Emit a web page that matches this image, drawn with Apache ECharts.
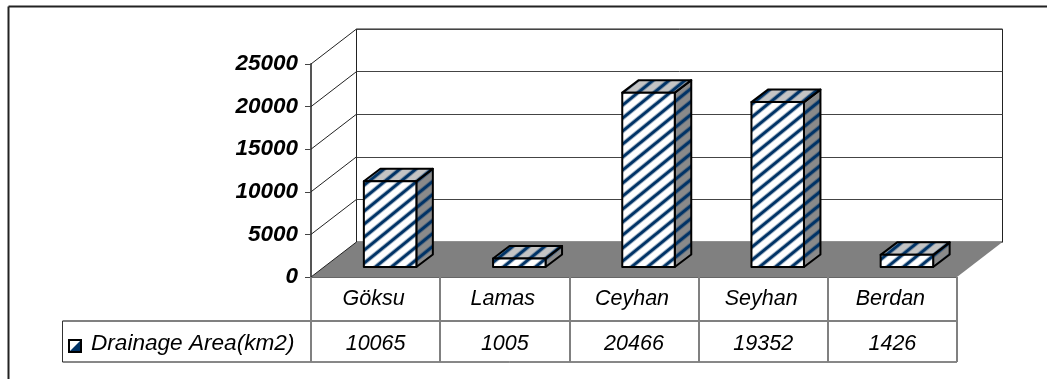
<!DOCTYPE html>
<html>
<head>
<meta charset="utf-8">
<style>html,body{margin:0;padding:0;background:#fff}#chart{width:1047px;height:379px}</style>
<script src="https://cdn.jsdelivr.net/npm/echarts@6/dist/echarts.min.js"></script>
</head>
<body>
<div id="chart"></div>
<script>
const categories = ['Göksu', 'Lamas', 'Ceyhan', 'Seyhan', 'Berdan'];
const drainageArea = [10065, 1005, 20466, 19352, 1426];
const yTicks = [0, 5000, 10000, 15000, 20000, 25000];
const seriesName = 'Drainage Area(km2)';

// Oblique projection of the 3D plot box and of each column inside it.
const WALL_DX = 45.5, WALL_DY = -35;
const BAR_SHIFT_X = 14.5, BAR_SHIFT_Y = -10;
const BAR_WIDTH = 52.5, BAR_DX = 16.5, BAR_DY = -12.5;
const FONT = '"Liberation Sans", Arial, sans-serif';

// Repeating diagonal hatch: a soft halo under a solid navy stroke.
function stripeTile(background) {
  const w = 16, h = 13, c = document.createElement('canvas');
  c.width = w;
  c.height = h;
  const g = c.getContext('2d');
  g.fillStyle = background;
  g.fillRect(0, 0, w, h);
  const stroke = (width, color) => {
    g.strokeStyle = color;
    g.lineWidth = width;
    for (let k = -1; k <= 1; k++) {
      g.beginPath();
      g.moveTo(k * w - 8, h + 6.5);
      g.lineTo(k * w + w + 8, -6.5);
      g.stroke();
    }
  };
  stroke(4.6, 'rgba(0,51,102,0.35)');
  stroke(2.8, '#003366');
  return { image: c, repeat: 'repeat' };
}
const frontFill = stripeTile('#ffffff');
const topFill = stripeTile('#c4c4c4');
const sideFill = stripeTile('#8a8a8a');

function renderColumn(params, api) {
  const i = api.value(0);
  const base = api.coord([i, 0]);
  const head = api.coord([i, api.value(1)]);
  const cx = base[0] + BAR_SHIFT_X;
  const l = cx - BAR_WIDTH / 2, r = cx + BAR_WIDTH / 2;
  const b = base[1] + BAR_SHIFT_Y, t = head[1] + BAR_SHIFT_Y;
  const edge = { stroke: '#000', lineWidth: 2, lineJoin: 'round' };
  const face = (points, fill) => ({
    type: 'polygon', shape: { points }, style: Object.assign({ fill }, edge)
  });
  return {
    type: 'group',
    children: [
      face([[r, t], [r + BAR_DX, t + BAR_DY], [r + BAR_DX, b + BAR_DY], [r, b]], sideFill),
      face([[l, t], [l + BAR_DX, t + BAR_DY], [r + BAR_DX, t + BAR_DY], [r, t]], topFill),
      face([[l, t], [r, t], [r, b], [l, b]], frontFill)
    ]
  };
}

function renderFloor(params) {
  const g = params.coordSys;
  const y = g.y + g.height;
  return {
    type: 'polygon',
    shape: { points: [[g.x, y], [g.x + WALL_DX, y + WALL_DY],
      [g.x + g.width + WALL_DX, y + WALL_DY], [g.x + g.width, y]] },
    style: { fill: '#808080' }
  };
}

function renderSideLine(params, api) {
  const y = api.coord([0, api.value(0)])[1];
  const x = params.coordSys.x;
  return {
    type: 'line',
    shape: { x1: x, y1: y, x2: x + WALL_DX, y2: y + WALL_DY },
    style: { stroke: '#222', lineWidth: 1 }
  };
}

const chart = echarts.init(document.getElementById('chart'), null, { renderer: 'canvas' });
chart.setOption({
  animation: false,
  backgroundColor: '#fff',
  grid: [
    // front plane of the plot box
    { left: 311, right: 90, top: 64, height: 213 },
    // back wall
    { left: 356.5, right: 44.5, top: 29, height: 213, show: true, borderColor: '#222', borderWidth: 1 },
    // data table value row
    { left: 311, right: 90, top: 320, height: 1 }
  ],
  xAxis: [
    {
      gridIndex: 0, type: 'category', data: categories,
      axisLine: { lineStyle: { color: '#666', width: 1 } },
      axisTick: { show: true, length: 44, lineStyle: { color: '#808080', width: 2 } },
      axisLabel: { margin: 11, padding: [0, 4, 0, 0], fontFamily: FONT, fontStyle: 'italic', fontSize: 21.5, color: '#000' }
    },
    { gridIndex: 1, type: 'category', data: categories, show: false },
    {
      gridIndex: 2, type: 'category', data: drainageArea.map(String),
      axisLine: { lineStyle: { color: '#808080', width: 2 } },
      axisTick: { show: true, length: 41, lineStyle: { color: '#808080', width: 2 } },
      axisLabel: { margin: 12, fontFamily: FONT, fontStyle: 'italic', fontSize: 21.5, color: '#000' }
    }
  ],
  yAxis: [
    {
      gridIndex: 0, type: 'value', min: 0, max: 25000, interval: 5000,
      splitLine: { show: false },
      axisLine: { show: true, lineStyle: { color: '#555', width: 2 } },
      axisTick: { show: true, length: 6, lineStyle: { color: '#444', width: 1 } },
      axisLabel: {
        margin: 13, fontFamily: FONT, fontStyle: 'italic', fontWeight: 'bold', fontSize: 22.5, color: '#000',
        formatter: v => String(v)
      }
    },
    {
      gridIndex: 1, type: 'value', min: 0, max: 25000, interval: 5000,
      axisLine: { show: false }, axisTick: { show: false }, axisLabel: { show: false },
      splitLine: { show: true, lineStyle: { color: '#444', width: 1 } }
    },
    { gridIndex: 2, type: 'value', show: false, splitLine: { show: false } }
  ],
  graphic: [
    // chart area frame: only its top and left edges are visible
    { type: 'line', shape: { x1: 8.5, y1: 6.5, x2: 1047, y2: 6.5 }, style: { stroke: '#222', lineWidth: 2 } },
    { type: 'line', shape: { x1: 8.5, y1: 6.5, x2: 8.5, y2: 379 }, style: { stroke: '#222', lineWidth: 2 } },
    // legend cell of the data table
    { type: 'line', shape: { x1: 62.5, y1: 321, x2: 311, y2: 321 }, style: { stroke: '#808080', lineWidth: 2 } },
    { type: 'line', shape: { x1: 62.5, y1: 321, x2: 62.5, y2: 362 }, style: { stroke: '#333', lineWidth: 1 } },
    { type: 'line', shape: { x1: 62.5, y1: 362, x2: 957, y2: 362 }, style: { stroke: '#111', lineWidth: 1 } },
    {
      type: 'rect', shape: { x: 69, y: 340, width: 12, height: 12 },
      style: {
        stroke: '#000', lineWidth: 2,
        fill: { type: 'linear', x: 0, y: 0, x2: 1, y2: 1, colorStops: [
          { offset: 0, color: '#fff' }, { offset: 0.48, color: '#fff' },
          { offset: 0.52, color: '#003366' }, { offset: 1, color: '#003366' }] }
      }
    },
    {
      type: 'text', x: 91, y: 344,
      style: { text: seriesName, font: 'italic 22.6px ' + FONT, fill: '#000', textVerticalAlign: 'middle' }
    }
  ],
  series: [
    {
      type: 'custom', xAxisIndex: 0, yAxisIndex: 0, z: 3, silent: true, clip: false,
      data: [[0]], renderItem: renderFloor
    },
    {
      type: 'custom', xAxisIndex: 0, yAxisIndex: 0, z: 3, silent: true, clip: false,
      data: yTicks.map(v => [v]), encode: { y: 0 }, renderItem: renderSideLine
    },
    {
      name: seriesName, type: 'custom', xAxisIndex: 0, yAxisIndex: 0, z: 5, silent: true, clip: false,
      data: drainageArea.map((v, i) => [i, v]), encode: { x: 0, y: 1 }, renderItem: renderColumn
    }
  ]
});
</script>
</body>
</html>
